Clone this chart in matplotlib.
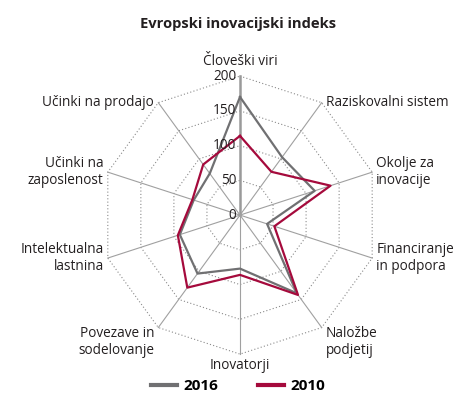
import numpy as np
import matplotlib
matplotlib.use('Agg')
import matplotlib.pyplot as plt

# podatki
categories = ['Človeški viri', 'Raziskovalni sistem', 'Okolje za\ninovacije',
              'Financiranje\nin podpora', 'Naložbe\npodjetij', 'Inovatorji',
              'Povezave in\nsodelovanje', 'Intelektualna\nlastnina',
              'Učinki na\nzaposlenost', 'Učinki na prodajo']
values_2016 = [170, 103, 113, 41, 139, 77, 104, 91, 70, 74]
values_2010 = [114, 77, 137, 52, 142, 86, 129, 94, 72, 90]
ticks = [0, 50, 100, 150, 200]

plt.rcParams['font.family'] = ['Open Sans', 'DejaVu Sans']
txt_col = '#231f20'
c2016 = '#707072'
c2010 = '#a50a3c'

fig = plt.figure(figsize=(4.58, 4.07), dpi=100)
fig.text(0.52, 0.942, 'Evropski inovacijski indeks', ha='center', va='center',
         fontsize=10.6, fontweight='bold', color=txt_col)

ax = fig.add_axes([0.2205, 0.130, 0.607, 0.683], projection='polar')
ax.set_theta_zero_location('N')
ax.set_theta_direction(-1)
ax.set_ylim(0, 200)
ax.axis('off')

n = len(categories)
angles = np.linspace(0, 2 * np.pi, n, endpoint=False)
closed = np.append(angles, angles[0])

# mreža - desetkotniki
for t in ticks[1:]:
    ax.plot(closed, [t] * (n + 1), color='#8a8a8a', lw=0.8, ls=(0, (1, 2)),
            clip_on=False, zorder=1)
# žarki
for i, a in enumerate(angles):
    if i == 0:
        ax.plot([a, a], [0, 200], color='#9a9a9a', lw=1.8, clip_on=False, zorder=1)
    else:
        ax.plot([a, a], [0, 200], color='#a0a0a0', lw=0.8, clip_on=False, zorder=1)

# oznake na osi
for t in ticks:
    ax.annotate(str(t), xy=(0, t), xytext=(-2.5, 0), textcoords='offset points',
                ha='right', va='center', fontsize=9.8, color=txt_col, zorder=5)

# serije
ax.plot(closed, values_2016 + values_2016[:1], color=c2016, lw=1.6,
        label='2016', zorder=3, clip_on=False)
ax.plot(closed, values_2010 + values_2010[:1], color=c2010, lw=1.6,
        label='2010', zorder=4, clip_on=False)

# imena kategorij
for a, lab in zip(angles, categories):
    s = np.sin(a)
    c = np.cos(a)
    if abs(s) < 1e-6:
        ha = 'center'
        dx = 0
    elif s > 0:
        ha = 'left'
        dx = 3
    else:
        ha = 'right'
        dx = -3
    if c > 0.9:
        va, dy = 'bottom', 5
    elif c < -0.9:
        va, dy = 'top', -3
    elif c < -0.5:
        va, dy = 'top', 1
    else:
        va, dy = 'center', 0
    ax.annotate(lab, xy=(a, 200), xytext=(dx, dy), textcoords='offset points',
                ha=ha, va=va, fontsize=9.8, color=txt_col, linespacing=1.15,
                annotation_clip=False)

leg = fig.legend(loc='lower center', bbox_to_anchor=(0.52, 0.0), ncol=2,
                 frameon=False, handlelength=1.7, columnspacing=2.6,
                 handletextpad=0.4, prop={'weight': 'bold', 'size': 11})
for line in leg.get_lines():
    line.set_linewidth(3)

fig.savefig('out.png', dpi=100)
